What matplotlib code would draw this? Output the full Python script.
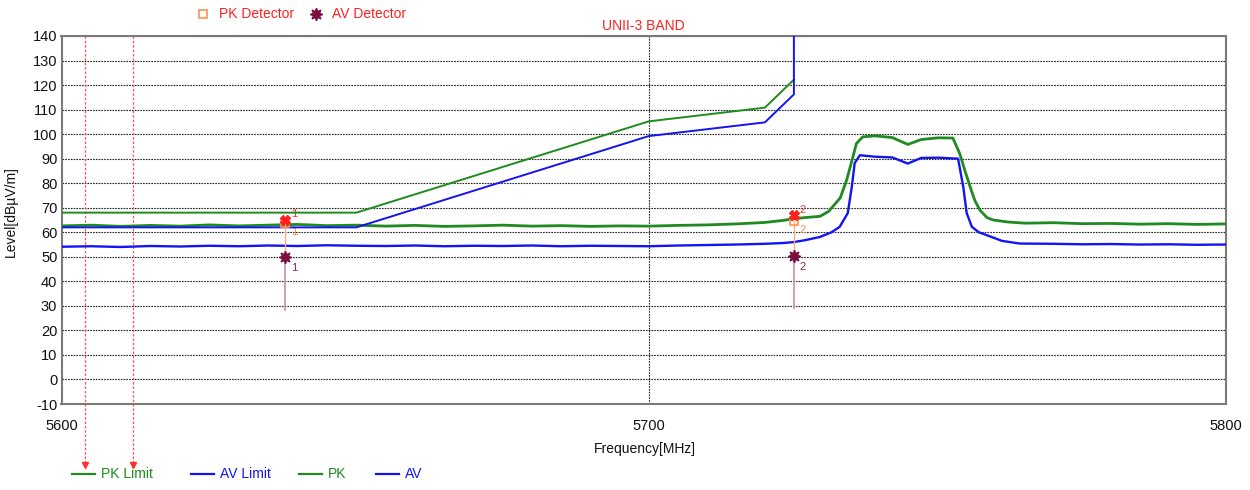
import matplotlib
matplotlib.use("Agg")
import matplotlib.pyplot as plt
from matplotlib.ticker import NullLocator, FixedLocator, FixedFormatter

plt.rcParams["font.family"] = ["Liberation Sans", "DejaVu Sans"]
plt.rcParams["axes.unicode_minus"] = False

GREEN = "#1f8a1f"
BLUE = "#1414f0"

# limit lines (MHz, dBuV/m)
pk_limit_f = [5600, 5650, 5700, 5720, 5725]
pk_limit_v = [68, 68, 105.2, 110.8, 122.2]
av_limit_f = [5600, 5650, 5700, 5720, 5725, 5725]
av_limit_v = [62, 62, 99.2, 104.8, 116.2, 140]

# measured traces
pk_f = [5600, 5605, 5610, 5615, 5620, 5625, 5630, 5635, 5640, 5645, 5650, 5655,
        5660, 5665, 5670, 5675, 5680, 5685, 5690, 5695, 5700, 5705, 5710, 5715,
        5720, 5723, 5725, 5727, 5729.5, 5731, 5733, 5734.1, 5735, 5735.8, 5736.9,
        5739, 5742, 5744.7, 5747, 5750, 5752.5, 5753.7, 5754.6, 5755.5, 5756.3,
        5757.2, 5758.4, 5759.5, 5762, 5765, 5770, 5775, 5780, 5785, 5790, 5795, 5800]
pk_v = [62.6, 62.9, 62.4, 62.8, 62.5, 63.0, 62.6, 62.9, 63.2, 62.7, 62.9, 62.5,
        62.8, 62.4, 62.6, 62.9, 62.5, 62.7, 62.4, 62.6, 62.5, 62.8, 63.0, 63.4,
        64.0, 64.8, 65.5, 66.0, 66.5, 68.5, 74.0, 81.2, 89.0, 96.2, 98.9,
        99.3, 98.6, 95.8, 97.8, 98.5, 98.4, 92.0, 85.0, 78.5, 73.0,
        69.0, 66.0, 65.0, 64.2, 63.7, 63.9, 63.5, 63.6, 63.3, 63.5, 63.2, 63.4]

av_f = [5600, 5605, 5610, 5615, 5620, 5625, 5630, 5635, 5640, 5645, 5650, 5655,
        5660, 5665, 5670, 5675, 5680, 5685, 5690, 5695, 5700, 5705, 5710, 5715,
        5720, 5723, 5725, 5727, 5729.5, 5731.5, 5732.9, 5734.3, 5735.0, 5735.5,
        5736.4, 5739, 5742, 5744.7, 5747, 5750, 5753.4, 5754.3, 5754.9, 5755.8,
        5757, 5758.4, 5761, 5764.1, 5770, 5775, 5780, 5785, 5790, 5795, 5800]
av_v = [54.1, 54.3, 54.0, 54.4, 54.2, 54.5, 54.3, 54.6, 54.4, 54.7, 54.5, 54.4,
        54.6, 54.3, 54.5, 54.4, 54.6, 54.3, 54.5, 54.4, 54.3, 54.6, 54.8, 55.0,
        55.3, 55.6, 56.0, 56.8, 58.1, 60.0, 62.2, 67.8, 78.5, 88.2,
        91.4, 90.8, 90.5, 88.0, 90.3, 90.4, 90.0, 78.5, 67.8, 62.2,
        60.0, 58.8, 56.5, 55.4, 55.3, 55.1, 55.2, 55.0, 55.1, 54.9, 55.0]

# markers
mk_f = [5637.9, 5725.0]
mk_pk_x = [65.2, 66.9]
mk_pk_sq = [63.8, 64.6]
mk_av = [49.9, 50.2]
mk_bottom = [28.2, 29.0]
mk_labels = ["1", "2"]

# red display lines
dl_f = [5604, 5612]

yticks = list(range(-10, 141, 10))
xticks = [5600, 5700, 5800]

fig = plt.figure(figsize=(12.5, 4.9), dpi=100)
ax = fig.add_axes([61.5 / 1250, 1 - 404 / 490, (1225.7 - 61.5) / 1250, 368 / 490])
ax.set_xscale("log")
ax.set_xlim(5600, 5800)
ax.set_ylim(-10, 140)
ax.xaxis.set_minor_locator(NullLocator())
ax.xaxis.set_major_locator(FixedLocator(xticks))
ax.xaxis.set_major_formatter(FixedFormatter([str(t) for t in xticks]))
ax.set_yticks(yticks)
ax.tick_params(length=0, labelsize=10.5, colors="#111111")
ax.tick_params(axis="x", pad=11)
ax.tick_params(axis="y", pad=3)
for s in ax.spines.values():
    s.set_color("#7a7a7a")
    s.set_linewidth(1.5)
ax.grid(True, linestyle=(0, (1.5, 1)), color="#222222", linewidth=0.8)
ax.set_axisbelow(True)

for f in dl_f:
    ax.plot([f, f], [1, -0.165], transform=ax.get_xaxis_transform(), color="#ff5050",
            linestyle=(0, (2, 1.5)), linewidth=0.9, clip_on=False, zorder=1)
    ax.plot([f], [-0.165], transform=ax.get_xaxis_transform(), marker="v", color="#ff3030",
            markersize=4, clip_on=False)

ax.plot(pk_f, pk_v, color=GREEN, linewidth=2.0, zorder=3)
ax.plot(av_f, av_v, color=BLUE, linewidth=1.7, zorder=3)
ax.plot(pk_limit_f, pk_limit_v, color=GREEN, linewidth=1.4, zorder=4)
ax.plot(av_limit_f, av_limit_v, color=BLUE, linewidth=1.4, zorder=4)

for f, px, sq, av, bot, lab in zip(mk_f, mk_pk_x, mk_pk_sq, mk_av, mk_bottom, mk_labels):
    ax.plot([f, f], [sq, av], color="#ffb080", linewidth=1.0, zorder=5)
    ax.plot([f, f], [av, bot], color="#c890b0", linewidth=1.2, zorder=5)
    ax.plot([f], [sq], marker="s", markersize=6, markerfacecolor="none",
            markeredgecolor="#ff9050", markeredgewidth=1.2, zorder=6)
    ax.plot([f], [px], marker="X", markersize=7, color="#ff2020", zorder=7)
    ax.plot([f], [av], marker=(8, 1, 0), markersize=9, color="#7a1040", zorder=7)
    ax.annotate(lab, (f, px), xytext=(4, 2), textcoords="offset points",
                color="#ff3030", fontsize=8)
    ax.annotate(lab, (f, sq), xytext=(4, -9), textcoords="offset points",
                color="#ff9050", fontsize=8)
    ax.annotate(lab, (f, av), xytext=(4, -10), textcoords="offset points",
                color="#8a2050", fontsize=8)

# titles / labels
fig.text(643 / 1250, 1 - 26 / 490, "UNII-3 BAND", color="#ff2020", fontsize=10,
         ha="center", va="center")
fig.text(645 / 1250, 1 - 449 / 490, "Frequency[MHz]", color="#111111", fontsize=10,
         ha="center", va="center")
fig.text(11 / 1250, 1 - 212 / 490, "Level[dBµV/m]", color="#111111", fontsize=10,
         ha="center", va="center", rotation=90)

# top legend
fig.lines.append(plt.Line2D([203 / 1250], [1 - 14 / 490], marker="s", markersize=6,
                            markerfacecolor="none", markeredgecolor="#ff9050",
                            markeredgewidth=1.2, transform=fig.transFigure))
fig.text(219 / 1250, 1 - 14 / 490, "PK Detector", color="#ff2020", fontsize=10, va="center")
fig.lines.append(plt.Line2D([316 / 1250], [1 - 14 / 490], marker=(8, 1, 0), markersize=9,
                            color="#7a1040", transform=fig.transFigure))
fig.text(332 / 1250, 1 - 14 / 490, "AV Detector", color="#ff2020", fontsize=10, va="center")

# bottom legend
leg_names = ["PK Limit", "AV Limit", "PK", "AV"]
leg_colors = [GREEN, BLUE, GREEN, BLUE]
leg_x = [72, 191, 299, 376]
for name, c, x in zip(leg_names, leg_colors, leg_x):
    y = 1 - 474 / 490
    fig.lines.append(plt.Line2D([x / 1250, (x + 23) / 1250], [y, y], color=c,
                                linewidth=1.6, transform=fig.transFigure))
    fig.text((x + 29) / 1250, y, name, color=c, fontsize=10, va="center")

fig.savefig("out.png", dpi=100)
